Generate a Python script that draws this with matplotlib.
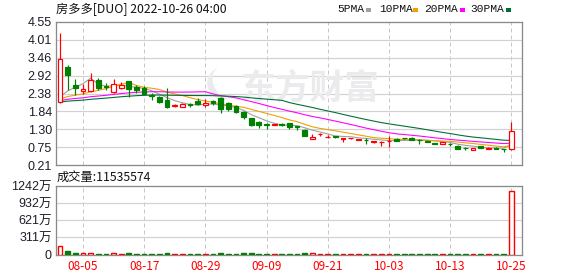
import matplotlib
matplotlib.use("Agg")
import matplotlib.pyplot as plt
from matplotlib.patches import Rectangle
import numpy as np

# ---------------- data ----------------
title = "房多多[DUO] 2022-10-26 04:00"
volume_title = "成交量:11535574"

opens = [2.13, 3.19, 2.64, 2.46, 2.47, 2.79, 2.60, 2.44, 2.54, 2.75,
         2.59, 2.54, 2.33, 2.28, 2.18, 2.00, 1.96, 2.06, 2.15, 2.04,
         2.16, 2.25, 2.09, 2.00, 1.83, 1.63, 1.53, 1.45, 1.42, 1.45,
         1.49, 1.39, 1.27, 1.01, 1.14, 1.06, 1.09, 0.99, 1.02, 0.98,
         0.98, 0.91, 0.90, 0.93, 1.00, 1.03, 1.02, 0.98, 0.95, 0.88,
         0.86, 0.85, 0.80, 0.73, 0.68, 0.79, 0.71, 0.74, 0.70, 0.69]
highs = [4.23, 3.24, 2.81, 2.68, 2.99, 2.84, 2.69, 2.82, 2.72, 2.77,
         2.65, 2.61, 2.39, 2.31, 2.54, 2.06, 2.10, 2.10, 2.25, 2.20,
         2.18, 2.28, 2.11, 2.02, 1.86, 1.64, 1.56, 1.49, 1.45, 1.47,
         1.49, 1.40, 1.29, 1.14, 1.19, 1.12, 1.10, 1.02, 1.04, 1.00,
         1.02, 0.95, 0.95, 1.09, 1.02, 1.04, 1.05, 1.01, 0.96, 0.89,
         0.91, 0.87, 0.83, 0.75, 0.74, 0.80, 0.77, 0.75, 0.70, 1.51]
lows = [2.09, 2.49, 2.34, 2.38, 2.44, 2.49, 2.48, 2.39, 2.52, 2.27,
        2.40, 2.33, 2.18, 2.09, 1.93, 1.98, 1.96, 1.98, 2.03, 1.98,
        2.03, 1.80, 1.86, 1.79, 1.60, 1.40, 1.33, 1.30, 1.41, 1.40,
        1.30, 1.27, 1.10, 1.01, 1.10, 1.02, 1.04, 0.92, 1.00, 0.97,
        0.85, 0.89, 0.80, 0.77, 0.95, 1.00, 0.97, 0.84, 0.90, 0.84,
        0.86, 0.80, 0.71, 0.67, 0.68, 0.73, 0.69, 0.70, 0.59, 0.68]
closes = [3.43, 2.94, 2.56, 2.51, 2.79, 2.56, 2.57, 2.66, 2.64, 2.51,
          2.49, 2.37, 2.30, 2.13, 1.98, 2.04, 2.05, 2.03, 2.06, 2.08,
          2.08, 1.90, 1.90, 1.81, 1.66, 1.43, 1.43, 1.42, 1.44, 1.42,
          1.37, 1.37, 1.10, 1.07, 1.15, 1.07, 1.07, 1.02, 1.03, 0.99,
          0.97, 0.95, 0.91, 0.95, 0.95, 1.02, 0.97, 0.97, 0.90, 0.86,
          0.90, 0.84, 0.71, 0.72, 0.74, 0.73, 0.74, 0.70, 0.69, 1.25]
volumes = [1600000, 600000, 260000, 210000, 240000, 180000, 150000, 200000, 170000, 190000,
           160000, 170000, 140000, 180000, 250000, 120000, 130000, 110000, 140000, 120000,
           110000, 200000, 150000, 160000, 210000, 230000, 170000, 150000, 110000, 120000,
           140000, 130000, 220000, 190000, 140000, 120000, 100000, 150000, 110000, 90000,
           120000, 100000, 130000, 160000, 110000, 100000, 120000, 130000, 110000, 120000,
           100000, 110000, 170000, 130000, 120000, 110000, 100000, 120000, 150000, 11535574]
# closes before the visible window, estimated from the starting levels of the MA lines
prior_closes = [2.10, 2.08, 2.06, 2.05, 2.03, 2.02, 2.04, 2.01, 2.00, 2.01,
                2.05, 2.08, 2.10, 2.12, 2.15, 2.13, 2.11, 2.12, 2.10, 2.14,
                2.16, 2.15, 2.14, 2.13, 2.12, 2.05, 2.00, 1.97, 1.95]

date_tick_idx = [3, 11, 19, 27, 35, 43, 51, 59]
date_tick_labels = ["08-05", "08-17", "08-29", "09-09", "09-21", "10-03", "10-13", "10-25"]
price_tick_labels = ["0.21", "0.75", "1.30", "1.84", "2.38", "2.92", "3.46", "4.01", "4.55"]
vol_tick_labels = ["0", "311万", "621万", "932万", "1242万"]
ma_names = ["5PMA", "10PMA", "20PMA", "30PMA"]
ma_periods = [5, 10, 20, 30]

# ---------------- style ----------------
RED = "#ff0000"
GREEN = "#008000"
ma_colors = ["#a0a0a0", "#f0a000", "#ff00ff", "#006f35"]
SPINE = "#8a8a8a"
GRID = "#d2d2d2"
VGRID = "#c8c8c8"
TXT = "#1e1e2a"
CJK = ["Noto Sans CJK SC", "DejaVu Sans"]
NUM = ["Liberation Sans", "Noto Sans CJK SC"]
MONO = ["Liberation Mono", "DejaVu Sans Mono"]
WM = "#ebebee"

W, H = 578, 276
fig = plt.figure(figsize=(W / 100, H / 100), dpi=100)
fig.patch.set_facecolor("white")

def px_axes(l, t, r, b):
    return fig.add_axes([l / W, 1 - b / H, (r - l) / W, (b - t) / H])

axp = px_axes(56, 22, 522, 165)
axv = px_axes(56, 186, 522, 254.5)

n = len(closes)
xs = np.arange(n)
xlim = (-0.52, 60.4)
PX = 0.72  # one pixel in points

for ax in (axp, axv):
    ax.set_xlim(*xlim)
    for s in ax.spines.values():
        s.set_color(SPINE)
        s.set_linewidth(1.3 * PX)
    ax.tick_params(length=0, pad=3)
    for xi in date_tick_idx:
        ax.axvline(xi, color=VGRID, lw=PX, ls=(0, (4, 3)), zorder=0)

# price axes
ymin, ymax = 0.21, 4.55
axp.set_ylim(ymin, ymax)
pt = np.linspace(ymin, ymax, len(price_tick_labels))
axp.set_yticks(pt)
axp.set_yticklabels(price_tick_labels, family=NUM, fontsize=9, color=TXT)
for v in pt[1:-1]:
    axp.axhline(v, color=GRID, lw=1.2 * PX, zorder=0)
axp.set_xticks([])

# watermark (logo + text)
axp.text((310 - 56) / 466, (165 - 88) / 143, "东方财富", transform=axp.transAxes,
         family=CJK, fontsize=25, fontweight="bold", color=WM,
         ha="center", va="center", zorder=0.5)
axp.text((216 - 56) / 466, (165 - 85) / 143, "❨", transform=axp.transAxes,
         family=["DejaVu Sans"], fontsize=26, fontweight="bold", color=WM,
         ha="center", va="center", zorder=0.5, rotation=25)

# moving averages
all_closes = np.array(prior_closes + closes)
off = len(prior_closes)
for per, col in zip(ma_periods, ma_colors):
    ma = np.array([all_closes[off + i - per + 1: off + i + 1].mean() for i in range(n)])
    axp.plot(xs, ma, color=col, lw=1.1 * PX, zorder=2)

# candles
w = 0.62
for i in range(n):
    o, h, l, c = opens[i], highs[i], lows[i], closes[i]
    up = c >= o
    lo_b, hi_b = min(o, c), max(o, c)
    hgt = max(hi_b - lo_b, 0.004)
    if up:
        axp.vlines(i, hi_b, h, color=RED, lw=1.2 * PX, zorder=3)
        axp.vlines(i, l, lo_b, color=RED, lw=1.2 * PX, zorder=3)
        axp.add_patch(Rectangle((i - w / 2, lo_b), w, hgt, facecolor="white",
                                edgecolor=RED, lw=1.2 * PX, zorder=4))
    else:
        axp.vlines(i, l, h, color=GREEN, lw=1.2 * PX, zorder=3)
        axp.add_patch(Rectangle((i - w / 2, lo_b), w, hgt, facecolor=GREEN,
                                edgecolor=GREEN, lw=1.2 * PX, zorder=4))

# volume axes
vol_w = np.array(volumes) / 1e4
vtop = 1242.2
axv.set_ylim(0, vtop)
vt = np.linspace(0, vtop, len(vol_tick_labels))
axv.set_yticks(vt)
axv.set_yticklabels(vol_tick_labels, family=NUM, fontsize=9, color=TXT)
for v in vt[1:-1]:
    axv.axhline(v, color=GRID, lw=1.2 * PX, zorder=0)
for i in range(n):
    up = closes[i] >= opens[i]
    if up:
        axv.add_patch(Rectangle((i - w / 2, 0), w, vol_w[i], facecolor="white",
                                edgecolor=RED, lw=1.4 * PX, zorder=3))
    else:
        axv.add_patch(Rectangle((i - w / 2, 0), w, vol_w[i], facecolor=GREEN,
                                edgecolor=GREEN, lw=1.4 * PX, zorder=3))
axv.set_xticks(date_tick_idx)
axv.set_xticklabels(date_tick_labels, family=CJK, fontsize=8.5, color=RED)
axv.tick_params(axis="x", pad=4)

# titles
fig.text(56 / W, 1 - 9.5 / H, title, family=CJK, fontsize=8.8, color="#111111",
         ha="left", va="center")
fig.text(57 / W, 1 - 177 / H, volume_title, family=CJK, fontsize=8.8, color="#111111",
         ha="left", va="center")

# legend
leg_x = [337, 379, 424, 470]
for name, lx in zip(ma_names, leg_x):
    fig.text(lx / W, 1 - 9.5 / H, name, family=MONO, fontsize=8.1, color="#111111",
             ha="left", va="center")
sq_x = [366, 413, 460, 506]
for col, sx in zip(ma_colors, sq_x):
    fig.patches.append(Rectangle((sx / W, 1 - 11.5 / H), 5 / W, 4 / H, facecolor=col,
                                 edgecolor="none", transform=fig.transFigure, figure=fig))

fig.savefig("out.png", dpi=100)
